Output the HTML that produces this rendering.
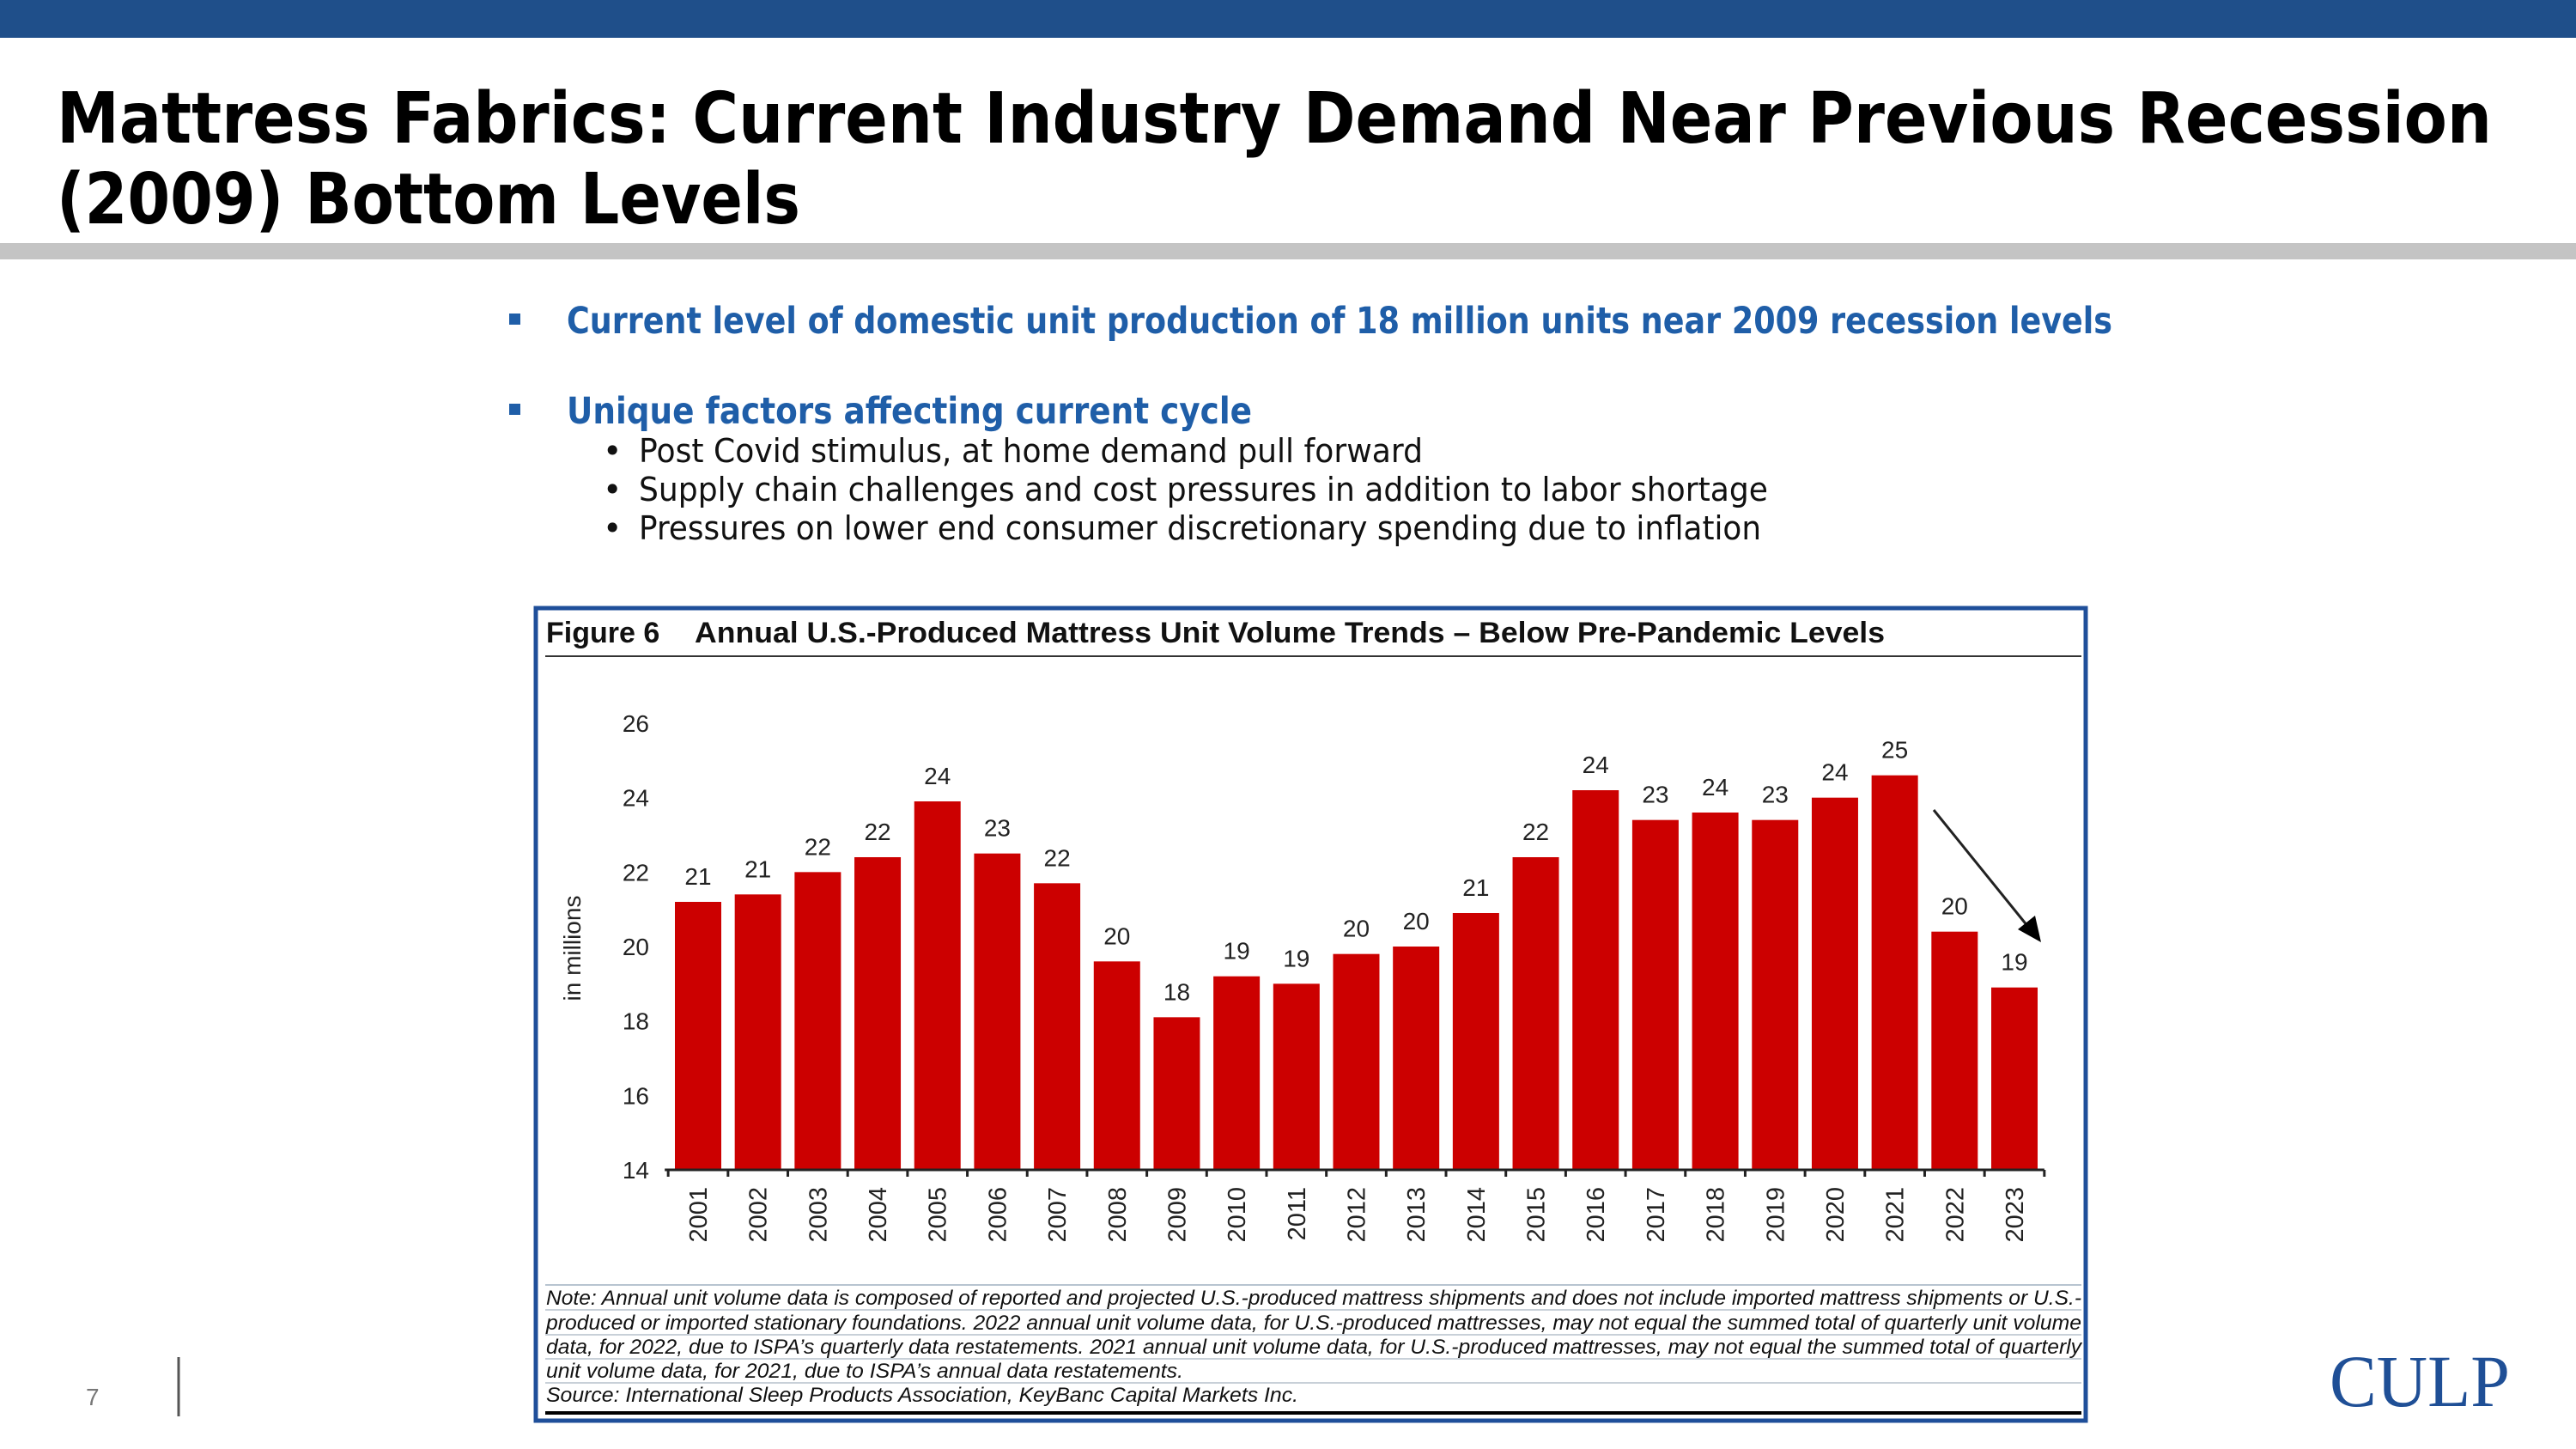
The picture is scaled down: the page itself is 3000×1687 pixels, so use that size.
<!DOCTYPE html>
<html><head><meta charset="utf-8"><style>
html,body{margin:0;padding:0;background:#fff;}
svg{display:block;}
</style></head><body>
<svg id="slide" width="3000" height="1687" viewBox="0 0 3000 1687" xmlns="http://www.w3.org/2000/svg" font-family="'Liberation Sans', sans-serif">
  <rect x="0" y="0" width="3000" height="44" fill="#1f4f8a"/>
  <g font-family="'DejaVu Sans', sans-serif" font-weight="bold" font-size="82" fill="#000">
    <text x="66" y="166" textLength="2836" lengthAdjust="spacingAndGlyphs">Mattress Fabrics: Current Industry Demand Near Previous Recession</text>
    <text x="66" y="260" textLength="866" lengthAdjust="spacingAndGlyphs">(2009) Bottom Levels</text>
  </g>
  <rect x="0" y="283" width="3000" height="19" fill="#c4c4c4"/>

  <g>
    <rect x="593" y="365" width="13" height="13" fill="#1f5ea8"/>
    <text x="660" y="388" font-size="43" font-weight="bold" fill="#1f5ea8" textLength="1800" lengthAdjust="spacingAndGlyphs" font-family="'DejaVu Sans', sans-serif">Current level of domestic unit production of 18 million units near 2009 recession levels</text>
    <rect x="593" y="470" width="13" height="13" fill="#1f5ea8"/>
    <text x="660" y="493" font-size="43" font-weight="bold" fill="#1f5ea8" textLength="798" lengthAdjust="spacingAndGlyphs" font-family="'DejaVu Sans', sans-serif">Unique factors affecting current cycle</text>
    <g font-size="38" fill="#111" font-family="'DejaVu Sans', sans-serif">
      <text x="702" y="538">•</text>
      <text x="744" y="538" textLength="913" lengthAdjust="spacingAndGlyphs">Post Covid stimulus, at home demand pull forward</text>
      <text x="702" y="583">•</text>
      <text x="744" y="583" textLength="1315" lengthAdjust="spacingAndGlyphs">Supply chain challenges and cost pressures in addition to labor shortage</text>
      <text x="702" y="628">•</text>
      <text x="744" y="628" textLength="1307" lengthAdjust="spacingAndGlyphs">Pressures on lower end consumer discretionary spending due to inflation</text>
    </g>
  </g>

  <g>
    <rect x="624" y="708" width="1805" height="946" fill="#fff" stroke="#1f4f9a" stroke-width="5"/>
    <text x="636" y="748" font-size="34" font-weight="bold" fill="#111">Figure 6</text>
    <text x="809" y="748" font-size="34" font-weight="bold" fill="#111" textLength="1386" lengthAdjust="spacingAndGlyphs">Annual U.S.-Produced Mattress Unit Volume Trends – Below Pre-Pandemic Levels</text>
    <line x1="635" y1="764" x2="2424" y2="764" stroke="#333" stroke-width="2"/>
    <g id="chart"></g>
    <line x1="2252" y1="943" x2="2366" y2="1084" stroke="#222" stroke-width="3"/>
    <polygon points="2377,1097 2350,1082 2370,1066" fill="#000"/>
    <line x1="635" y1="1496" x2="2424" y2="1496" stroke="#b8c4d0" stroke-width="2"/>
    <g font-size="24" font-style="italic" fill="#111">
      <text x="636" y="1519" textLength="1788" lengthAdjust="spacingAndGlyphs">Note: Annual unit volume data is composed of reported and projected U.S.-produced mattress shipments and does not include imported mattress shipments or U.S.-</text>
      <line x1="635" y1="1525" x2="2424" y2="1525" stroke="#c8d0d8" stroke-width="2"/>
      <text x="636" y="1548" textLength="1788" lengthAdjust="spacingAndGlyphs">produced or imported stationary foundations. 2022 annual unit volume data, for U.S.-produced mattresses, may not equal the summed total of quarterly unit volume</text>
      <line x1="635" y1="1554" x2="2424" y2="1554" stroke="#c8d0d8" stroke-width="2"/>
      <text x="636" y="1576" textLength="1788" lengthAdjust="spacingAndGlyphs">data, for 2022, due to ISPA’s quarterly data restatements. 2021 annual unit volume data, for U.S.-produced mattresses, may not equal the summed total of quarterly</text>
      <line x1="635" y1="1582" x2="2424" y2="1582" stroke="#c8d0d8" stroke-width="2"/>
      <text x="636" y="1604" textLength="742" lengthAdjust="spacingAndGlyphs">unit volume data, for 2021, due to ISPA’s annual data restatements.</text>
      <line x1="635" y1="1610" x2="2424" y2="1610" stroke="#c8d0d8" stroke-width="2"/>
      <text x="636" y="1632" textLength="876" lengthAdjust="spacingAndGlyphs">Source: International Sleep Products Association, KeyBanc Capital Markets Inc.</text>
    </g>
    <line x1="635" y1="1645" x2="2424" y2="1645" stroke="#000" stroke-width="4"/>
  </g>

  <text x="100" y="1636" font-size="28" fill="#777">7</text>
  <line x1="208" y1="1580" x2="208" y2="1649" stroke="#555" stroke-width="3"/>
  <text x="2713" y="1637" font-size="86" fill="#1f4f96" font-family="'Liberation Serif', serif" textLength="210" lengthAdjust="spacingAndGlyphs">CULP</text>
</svg>
<script>
const years = ["2001","2002","2003","2004","2005","2006","2007","2008","2009","2010","2011","2012","2013","2014","2015","2016","2017","2018","2019","2020","2021","2022","2023"];
const volumes = [21.2,21.4,22.0,22.4,23.9,22.5,21.7,19.6,18.1,19.2,19.0,19.8,20.0,20.9,22.4,24.2,23.4,23.6,23.4,24.0,24.6,20.4,18.9];
const valueLabels = ["21","21","22","22","24","23","22","20","18","19","19","20","20","21","22","24","23","24","23","24","25","20","19"];
const yTicks = [14,16,18,20,22,24,26];

const NS = "http://www.w3.org/2000/svg";
const chart = document.getElementById("chart");
const yMin = 14, yMax = 26, yBottom = 1362, yTop = 842;
const xFirst = 813, xLast = 2346, barW = 54;
function yScale(v){ return yBottom - (v - yMin) / (yMax - yMin) * (yBottom - yTop); }
function xScale(i){ return xFirst + i * (xLast - xFirst) / (years.length - 1); }
function mk(tag, attrs){ const e = document.createElementNS(NS, tag); for (const k in attrs) e.setAttribute(k, attrs[k]); chart.appendChild(e); return e; }

const yTitle = mk("text", {x:0, y:0, "font-size":28, fill:"#222", "text-anchor":"middle", transform:"translate(676,1104) rotate(-90)"});
yTitle.textContent = "in millions";



yTicks.forEach(t => {
  const lbl = mk("text", {x:756, y:yScale(t) + 10, "font-size":28, fill:"#222", "text-anchor":"end"});
  lbl.textContent = t;
  
  
});

volumes.forEach((v, i) => {
  const cx = xScale(i);
  const bar = mk("rect", {x:cx - barW/2, y:yScale(v), width:barW, height:yBottom - yScale(v), fill:"#cc0000"});
  
  
  const vl = mk("text", {x:cx, y:yScale(v) - 20, "font-size":28, fill:"#222", "text-anchor":"middle"});
  vl.textContent = valueLabels[i];
  
  
  const yl = mk("text", {x:0, y:0, "font-size":29, fill:"#222", "text-anchor":"end", transform:"translate(" + (cx + 10) + ",1382) rotate(-90)"});
  yl.textContent = years[i];
  
  
});

const step = (xLast - xFirst) / (years.length - 1);
const axis = mk("line", {x1:xFirst - step/2 - 4, y1:yBottom, x2:xLast + step/2, y2:yBottom, stroke:"#222", "stroke-width":3});


for (let i = 0; i <= years.length; i++) {
  const tx = xFirst - step/2 + i * step;
  const tk = mk("line", {x1:tx, y1:yBottom, x2:tx, y2:yBottom + 8, stroke:"#222", "stroke-width":3});
  
  
}
</script>
</body></html>
